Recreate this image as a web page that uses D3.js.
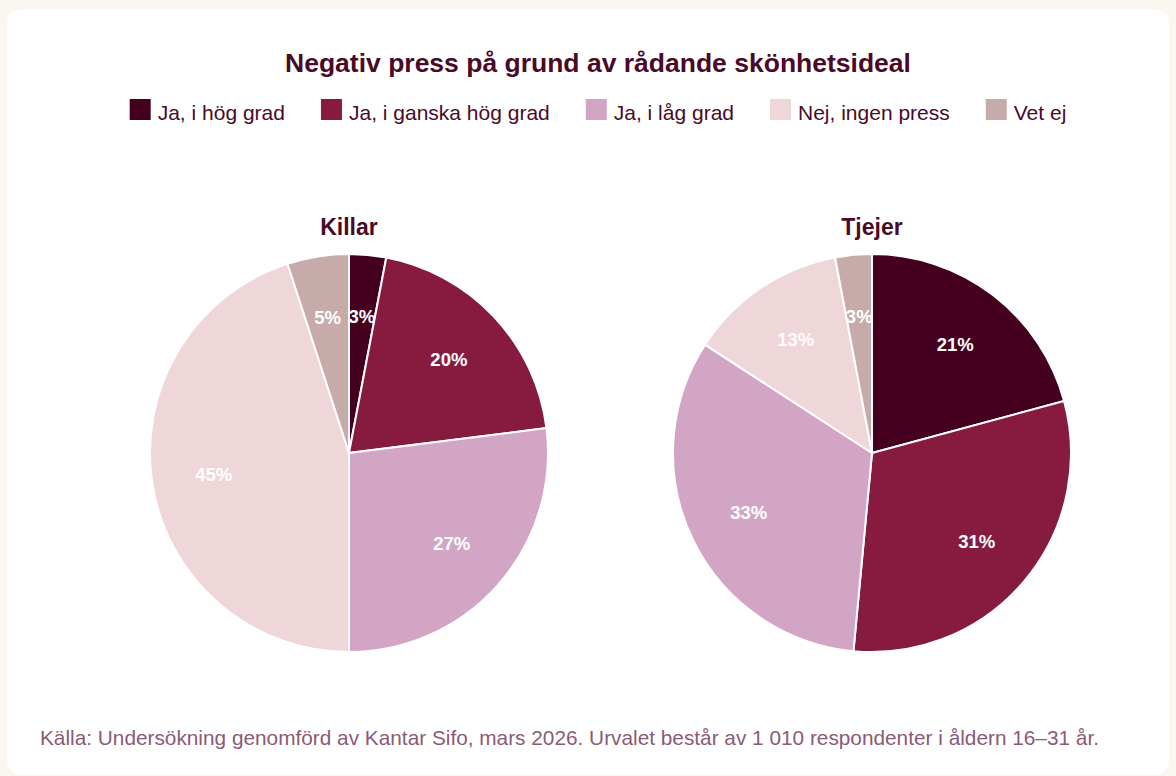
<!DOCTYPE html>
<html>
<head>
<meta charset="utf-8">
<script src="https://cdn.jsdelivr.net/npm/d3@7"></script>
<style>
  html, body { margin: 0; padding: 0; background: #faf6f0; }
  svg { display: block; font-family: "Liberation Sans", Arial, Helvetica, sans-serif; }
</style>
</head>
<body>
<script>
const categories = ['Ja, i hög grad', 'Ja, i ganska hög grad', 'Ja, i låg grad', 'Nej, ingen press', 'Vet ej'];
const colors = ['#46001f', '#861b3f', '#d3a5c5', '#efd6d8', '#c6abaa'];
const groups = ['Killar', 'Tjejer'];
const killarValues = [3, 20, 27, 45, 5];
const tjejerValues = [21, 31, 33, 13, 3];
const title = 'Negativ press på grund av rådande skönhetsideal';
const source = 'Källa: Undersökning genomförd av Kantar Sifo, mars 2026. Urvalet består av 1 010 respondenter i åldern 16–31 år.';

const width = 1176;
const height = 776;

const svg = d3.select('body')
              .append('svg')
              .attr('width', width)
              .attr('height', height);

// white card
svg.append('rect')
   .attr('x', 7)
   .attr('y', 10)
   .attr('width', 1162)
   .attr('height', 764)
   .attr('rx', 12)
   .attr('fill', '#ffffff');

svg.append('text')
   .attr('x', 598)
   .attr('y', 72)
   .attr('text-anchor', 'middle')
   .attr('font-size', 26.5)
   .attr('font-weight', 'bold')
   .attr('fill', '#4a0a27')
   .text(title);

// legend, centred
const legend = svg.append('g');
const sq = 21;
const gapText = 7;
const gapItem = 36;
let lx = 0;
categories.forEach((c, i) => {
  const item = legend.append('g').attr('transform', 'translate(' + lx + ',0)');
  item.append('rect')
      .attr('width', sq)
      .attr('height', sq)
      .attr('y', -21)
      .attr('fill', colors[i]);
  const t = item.append('text')
      .attr('x', sq + gapText)
      .attr('font-size', 21)
      .attr('fill', '#4a0a27')
      .text(c);
  lx += sq + gapText + t.node().getComputedTextLength() + gapItem;
});
lx -= gapItem;
legend.attr('transform', 'translate(' + (598 - lx / 2) + ',120)');

const radius = 199;
const pie = d3.pie().sort(null).value((d) => d);
const arc = d3.arc().innerRadius(0).outerRadius(radius);
const labelArc = d3.arc().innerRadius(137 * 2 - radius).outerRadius(radius);

const drawPie = (name, values, cx) => {
  const g = svg.append('g').attr('transform', 'translate(' + cx + ',453)');

  g.append('text')
   .attr('y', -218)
   .attr('text-anchor', 'middle')
   .attr('font-size', 23)
   .attr('font-weight', 'bold')
   .attr('fill', '#4a0a27')
   .text(name);

  const arcs = pie(values);
  g.selectAll('path')
   .data(arcs)
   .enter()
   .append('path')
   .attr('d', arc)
   .attr('fill', (d, i) => colors[i])
   .attr('stroke', '#ffffff')
   .attr('stroke-width', 2);

  g.selectAll('text.lbl')
   .data(arcs)
   .enter()
   .append('text')
   .attr('class', 'lbl')
   .attr('transform', (d) => 'translate(' + labelArc.centroid(d) + ')')
   .attr('text-anchor', 'middle')
   .attr('dy', '0.35em')
   .attr('font-size', 18.5)
   .attr('font-weight', 'bold')
   .attr('fill', '#ffffff')
   .text((d) => d.data + '%');
};

drawPie(groups[0], killarValues, 349);
drawPie(groups[1], tjejerValues, 872);

svg.append('text')
   .attr('x', 40)
   .attr('y', 745)
   .attr('font-size', 20.8)
   .attr('fill', '#8c5a75')
   .text(source);
</script>
</body>
</html>
